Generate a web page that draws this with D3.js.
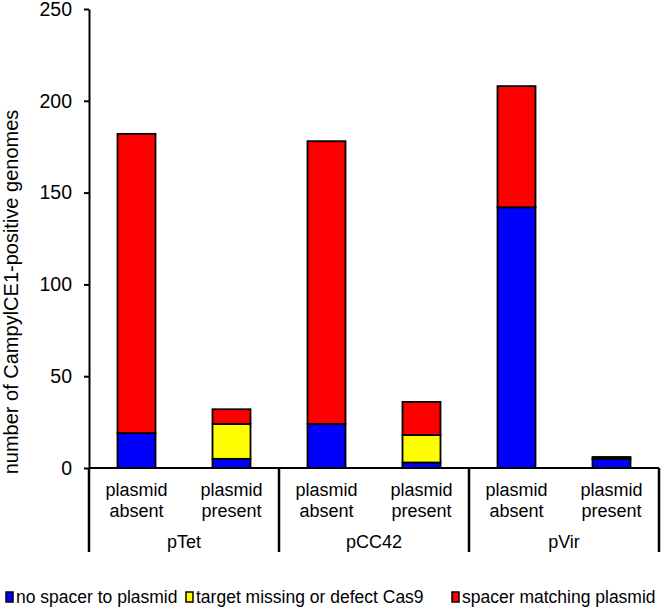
<!DOCTYPE html>
<html>
<head>
<meta charset="utf-8">
<script src="https://cdn.jsdelivr.net/npm/d3@7"></script>
<style>
  body { margin: 0; background: #fff; }
  svg text { font-family: Arial, "Liberation Sans", sans-serif; fill: #000; }
</style>
</head>
<body>
<div id="chart"></div>
<script>
// data
const plasmids = ["pTet", "pCC42", "pVir"];
const states = ["plasmid absent", "plasmid present"];
const noSpacer = [19, 5, 24, 3, 142, 5];
const targetMissing = [0, 19, 0, 15, 0, 0];
const spacerMatching = [163, 8, 154, 18, 66, 1];
const seriesNames = ["no spacer to plasmid", "target missing or defect Cas9", "spacer matching plasmid"];
const seriesColors = ["#0000ff", "#ffff00", "#ff0000"];
const yTicks = [0, 50, 100, 150, 200, 250];

const width = 661, height = 613;
const margin = {top: 9, right: 2, bottom: 145, left: 89};
const plotBottom = height - margin.bottom;

// one row per bar
const rows = [];
plasmids.forEach((p, i) => {
    states.forEach((s, j) => {
        const k = i * states.length + j;
        rows.push({
            key: p + "|" + s, plasmid: p, state: s,
            [seriesNames[0]]: noSpacer[k],
            [seriesNames[1]]: targetMissing[k],
            [seriesNames[2]]: spacerMatching[k]
        });
    });
});

const svg = d3.select("#chart").append("svg")
    .attr("width", width)
    .attr("height", height);

const x = d3.scaleBand()
    .domain(rows.map(d => d.key))
    .range([margin.left, width - margin.right])
    .paddingInner(0.6)
    .paddingOuter(0.3);

const xGroup = d3.scaleBand()
    .domain(plasmids)
    .range([margin.left, width - margin.right]);

const y = d3.scaleLinear()
    .domain([0, 250])
    .range([plotBottom, margin.top]);

const stacked = d3.stack().keys(seriesNames)(rows);

// bars
svg.append("g")
    .selectAll("g")
    .data(stacked)
    .join("g")
    .attr("fill", (d, i) => seriesColors[i])
    .selectAll("rect")
    .data(d => d.filter(v => v[1] - v[0] > 0))
    .join("rect")
    .attr("x", d => x(d.data.key))
    .attr("width", x.bandwidth())
    .attr("y", d => y(d[1]))
    .attr("height", d => y(d[0]) - y(d[1]))
    .attr("stroke", "#000")
    .attr("stroke-width", 1.8);

// y axis
const yAxis = svg.append("g")
    .attr("transform", `translate(${margin.left},0)`)
    .call(d3.axisLeft(y).tickValues(yTicks).tickSize(5).tickSizeOuter(0).tickPadding(12));
yAxis.select(".domain").attr("stroke-width", 2);
yAxis.selectAll(".tick line").attr("stroke-width", 2);
yAxis.selectAll(".tick text").style("font-size", "19.5px");

svg.append("text")
    .attr("transform", "translate(18,292) rotate(-90)")
    .attr("text-anchor", "middle")
    .style("font-size", "20px")
    .text("number of CampylCE1-positive genomes");

// x axis and group box
const boxBottom = 552;
svg.append("line")
    .attr("x1", margin.left).attr("x2", width - margin.right)
    .attr("y1", plotBottom).attr("y2", plotBottom)
    .attr("stroke", "#000").attr("stroke-width", 2);

const sepX = plasmids.map(p => xGroup(p)).concat([xGroup(plasmids[plasmids.length - 1]) + xGroup.bandwidth()]);
svg.append("g")
    .selectAll("line")
    .data(sepX)
    .join("line")
    .attr("x1", d => d).attr("x2", d => d)
    .attr("y1", plotBottom).attr("y2", boxBottom)
    .attr("stroke", "#000").attr("stroke-width", 2.5);

// category labels
const catLabels = svg.append("g")
    .selectAll("text")
    .data(rows)
    .join("text")
    .attr("x", d => x(d.key) + x.bandwidth() / 2)
    .attr("text-anchor", "middle")
    .style("font-size", "18px");
catLabels.append("tspan")
    .attr("x", d => x(d.key) + x.bandwidth() / 2)
    .attr("y", 496)
    .text(d => d.state.split(" ")[0]);
catLabels.append("tspan")
    .attr("x", d => x(d.key) + x.bandwidth() / 2)
    .attr("y", 517)
    .text(d => d.state.split(" ")[1]);

svg.append("g")
    .selectAll("text")
    .data(plasmids)
    .join("text")
    .attr("x", d => xGroup(d) + xGroup.bandwidth() / 2)
    .attr("y", 548)
    .attr("text-anchor", "middle")
    .style("font-size", "18px")
    .text(d => d);

// legend
const legendX = [6, 186, 452];
const legend = svg.append("g")
    .selectAll("g")
    .data(seriesNames)
    .join("g")
    .attr("transform", (d, i) => `translate(${legendX[i]},603)`);
legend.append("rect")
    .attr("x", 0).attr("y", -11)
    .attr("width", 7).attr("height", 10)
    .attr("fill", (d, i) => seriesColors[i])
    .attr("stroke", "#000").attr("stroke-width", 1.5);
legend.append("text")
    .attr("x", 10).attr("y", 0)
    .style("font-size", "17.5px")
    .text(d => d);
</script>
</body>
</html>
